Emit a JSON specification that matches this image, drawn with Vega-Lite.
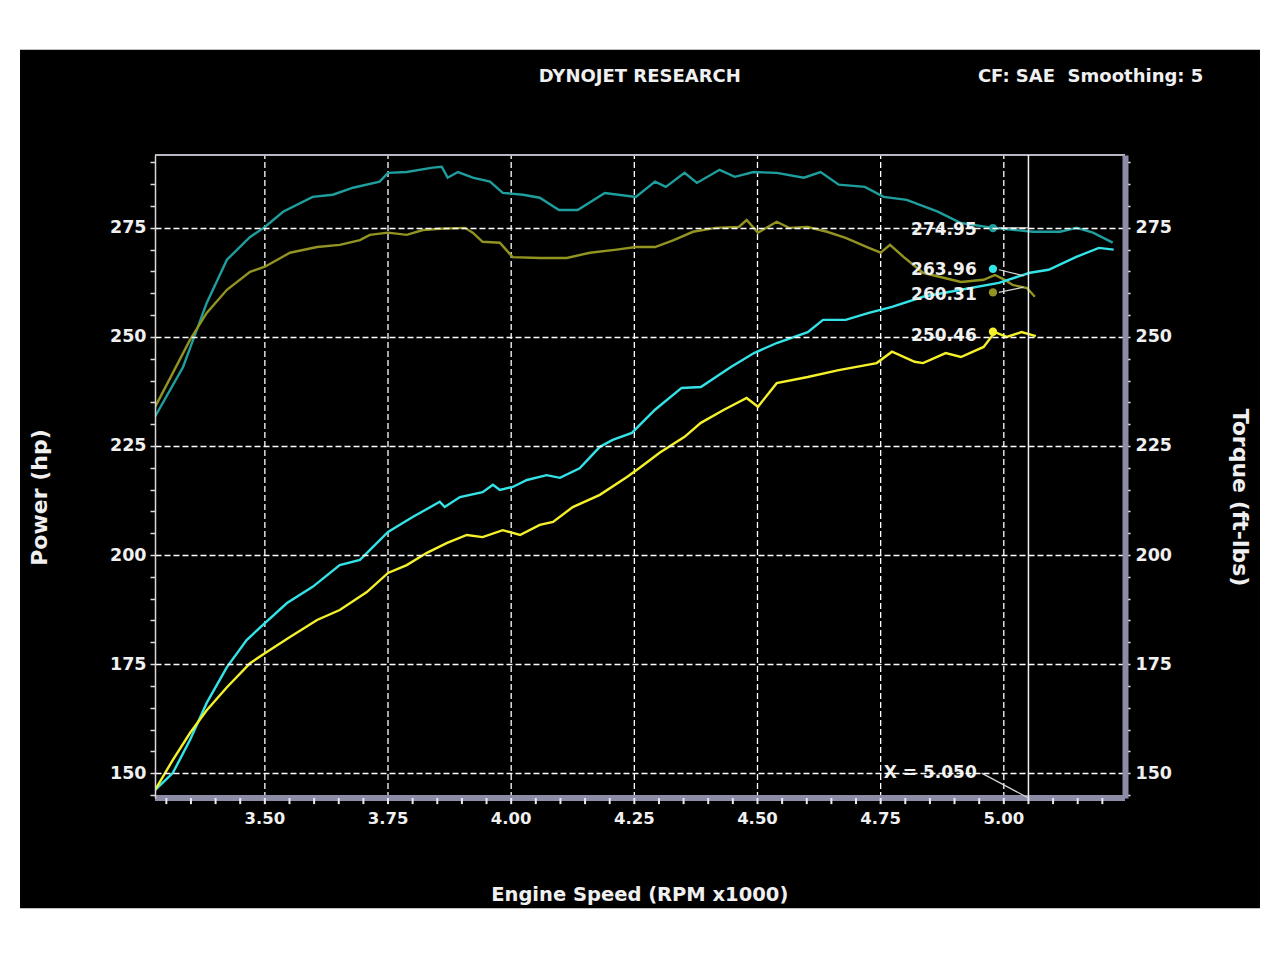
{
  "$schema": "https://vega.github.io/schema/vega-lite/v6.json",
  "width": 970,
  "height": 643,
  "autosize": {"type": "none"},
  "padding": {"left": 155, "top": 155, "right": 155, "bottom": 161},
  "background": "white",
  "config": {
    "view": {"stroke": "#b8b8c4", "strokeWidth": 2, "cornerRadius": 8},
    "font": "DejaVu Sans"
  },
  "datasets": {
    "curves": [
      {"rpm": 3.277, "value": 231.7, "series": "Torque 1"},
      {"rpm": 3.334, "value": 243.1, "series": "Torque 1"},
      {"rpm": 3.382, "value": 257.8, "series": "Torque 1"},
      {"rpm": 3.423, "value": 267.7, "series": "Torque 1"},
      {"rpm": 3.470, "value": 272.9, "series": "Torque 1"},
      {"rpm": 3.500, "value": 275.2, "series": "Torque 1"},
      {"rpm": 3.537, "value": 278.7, "series": "Torque 1"},
      {"rpm": 3.597, "value": 282.1, "series": "Torque 1"},
      {"rpm": 3.638, "value": 282.6, "series": "Torque 1"},
      {"rpm": 3.679, "value": 284.2, "series": "Torque 1"},
      {"rpm": 3.733, "value": 285.6, "series": "Torque 1"},
      {"rpm": 3.750, "value": 287.6, "series": "Torque 1"},
      {"rpm": 3.788, "value": 287.8, "series": "Torque 1"},
      {"rpm": 3.841, "value": 288.8, "series": "Torque 1"},
      {"rpm": 3.859, "value": 289.0, "series": "Torque 1"},
      {"rpm": 3.871, "value": 286.5, "series": "Torque 1"},
      {"rpm": 3.892, "value": 287.8, "series": "Torque 1"},
      {"rpm": 3.922, "value": 286.5, "series": "Torque 1"},
      {"rpm": 3.957, "value": 285.6, "series": "Torque 1"},
      {"rpm": 3.983, "value": 283.0, "series": "Torque 1"},
      {"rpm": 4.024, "value": 282.6, "series": "Torque 1"},
      {"rpm": 4.058, "value": 281.9, "series": "Torque 1"},
      {"rpm": 4.097, "value": 279.1, "series": "Torque 1"},
      {"rpm": 4.135, "value": 279.1, "series": "Torque 1"},
      {"rpm": 4.190, "value": 283.0, "series": "Torque 1"},
      {"rpm": 4.253, "value": 282.1, "series": "Torque 1"},
      {"rpm": 4.292, "value": 285.6, "series": "Torque 1"},
      {"rpm": 4.314, "value": 284.4, "series": "Torque 1"},
      {"rpm": 4.352, "value": 287.6, "series": "Torque 1"},
      {"rpm": 4.377, "value": 285.3, "series": "Torque 1"},
      {"rpm": 4.423, "value": 288.3, "series": "Torque 1"},
      {"rpm": 4.454, "value": 286.7, "series": "Torque 1"},
      {"rpm": 4.492, "value": 287.8, "series": "Torque 1"},
      {"rpm": 4.539, "value": 287.6, "series": "Torque 1"},
      {"rpm": 4.594, "value": 286.5, "series": "Torque 1"},
      {"rpm": 4.628, "value": 287.8, "series": "Torque 1"},
      {"rpm": 4.665, "value": 284.9, "series": "Torque 1"},
      {"rpm": 4.718, "value": 284.4, "series": "Torque 1"},
      {"rpm": 4.756, "value": 282.1, "series": "Torque 1"},
      {"rpm": 4.803, "value": 281.4, "series": "Torque 1"},
      {"rpm": 4.866, "value": 278.7, "series": "Torque 1"},
      {"rpm": 4.913, "value": 276.1, "series": "Torque 1"},
      {"rpm": 4.978, "value": 275.0, "series": "Torque 1"},
      {"rpm": 5.059, "value": 274.1, "series": "Torque 1"},
      {"rpm": 5.114, "value": 274.1, "series": "Torque 1"},
      {"rpm": 5.148, "value": 275.0, "series": "Torque 1"},
      {"rpm": 5.181, "value": 273.9, "series": "Torque 1"},
      {"rpm": 5.221, "value": 271.6, "series": "Torque 1"},

      {"rpm": 3.277, "value": 233.9, "series": "Torque 2"},
      {"rpm": 3.313, "value": 241.7, "series": "Torque 2"},
      {"rpm": 3.348, "value": 249.3, "series": "Torque 2"},
      {"rpm": 3.382, "value": 255.5, "series": "Torque 2"},
      {"rpm": 3.423, "value": 260.8, "series": "Torque 2"},
      {"rpm": 3.470, "value": 264.9, "series": "Torque 2"},
      {"rpm": 3.500, "value": 266.1, "series": "Torque 2"},
      {"rpm": 3.551, "value": 269.3, "series": "Torque 2"},
      {"rpm": 3.606, "value": 270.6, "series": "Torque 2"},
      {"rpm": 3.652, "value": 271.1, "series": "Torque 2"},
      {"rpm": 3.693, "value": 272.2, "series": "Torque 2"},
      {"rpm": 3.713, "value": 273.4, "series": "Torque 2"},
      {"rpm": 3.750, "value": 273.9, "series": "Torque 2"},
      {"rpm": 3.788, "value": 273.4, "series": "Torque 2"},
      {"rpm": 3.821, "value": 274.5, "series": "Torque 2"},
      {"rpm": 3.855, "value": 274.8, "series": "Torque 2"},
      {"rpm": 3.906, "value": 275.0, "series": "Torque 2"},
      {"rpm": 3.922, "value": 273.9, "series": "Torque 2"},
      {"rpm": 3.942, "value": 271.8, "series": "Torque 2"},
      {"rpm": 3.977, "value": 271.6, "series": "Torque 2"},
      {"rpm": 4.003, "value": 268.3, "series": "Torque 2"},
      {"rpm": 4.058, "value": 268.1, "series": "Torque 2"},
      {"rpm": 4.113, "value": 268.1, "series": "Torque 2"},
      {"rpm": 4.160, "value": 269.3, "series": "Torque 2"},
      {"rpm": 4.214, "value": 270.0, "series": "Torque 2"},
      {"rpm": 4.253, "value": 270.6, "series": "Torque 2"},
      {"rpm": 4.292, "value": 270.6, "series": "Torque 2"},
      {"rpm": 4.330, "value": 272.2, "series": "Torque 2"},
      {"rpm": 4.369, "value": 274.1, "series": "Torque 2"},
      {"rpm": 4.415, "value": 275.0, "series": "Torque 2"},
      {"rpm": 4.462, "value": 275.2, "series": "Torque 2"},
      {"rpm": 4.478, "value": 276.8, "series": "Torque 2"},
      {"rpm": 4.501, "value": 273.9, "series": "Torque 2"},
      {"rpm": 4.539, "value": 276.4, "series": "Torque 2"},
      {"rpm": 4.564, "value": 275.0, "series": "Torque 2"},
      {"rpm": 4.602, "value": 275.2, "series": "Torque 2"},
      {"rpm": 4.641, "value": 274.1, "series": "Torque 2"},
      {"rpm": 4.679, "value": 272.7, "series": "Torque 2"},
      {"rpm": 4.726, "value": 270.4, "series": "Torque 2"},
      {"rpm": 4.750, "value": 269.3, "series": "Torque 2"},
      {"rpm": 4.769, "value": 271.1, "series": "Torque 2"},
      {"rpm": 4.797, "value": 268.3, "series": "Torque 2"},
      {"rpm": 4.836, "value": 264.7, "series": "Torque 2"},
      {"rpm": 4.913, "value": 262.6, "series": "Torque 2"},
      {"rpm": 4.959, "value": 263.1, "series": "Torque 2"},
      {"rpm": 4.982, "value": 264.2, "series": "Torque 2"},
      {"rpm": 5.000, "value": 263.2, "series": "Torque 2"},
      {"rpm": 5.018, "value": 261.9, "series": "Torque 2"},
      {"rpm": 5.047, "value": 261.2, "series": "Torque 2"},
      {"rpm": 5.063, "value": 259.2, "series": "Torque 2"},

      {"rpm": 3.277, "value": 146.1, "series": "Power 1"},
      {"rpm": 3.313, "value": 150.0, "series": "Power 1"},
      {"rpm": 3.348, "value": 157.6, "series": "Power 1"},
      {"rpm": 3.382, "value": 166.1, "series": "Power 1"},
      {"rpm": 3.423, "value": 174.3, "series": "Power 1"},
      {"rpm": 3.463, "value": 180.5, "series": "Power 1"},
      {"rpm": 3.500, "value": 184.4, "series": "Power 1"},
      {"rpm": 3.545, "value": 189.0, "series": "Power 1"},
      {"rpm": 3.597, "value": 192.7, "series": "Power 1"},
      {"rpm": 3.652, "value": 197.7, "series": "Power 1"},
      {"rpm": 3.693, "value": 198.9, "series": "Power 1"},
      {"rpm": 3.719, "value": 201.8, "series": "Power 1"},
      {"rpm": 3.750, "value": 205.3, "series": "Power 1"},
      {"rpm": 3.800, "value": 208.7, "series": "Power 1"},
      {"rpm": 3.855, "value": 212.2, "series": "Power 1"},
      {"rpm": 3.865, "value": 211.0, "series": "Power 1"},
      {"rpm": 3.896, "value": 213.3, "series": "Power 1"},
      {"rpm": 3.942, "value": 214.4, "series": "Power 1"},
      {"rpm": 3.963, "value": 216.1, "series": "Power 1"},
      {"rpm": 3.977, "value": 214.9, "series": "Power 1"},
      {"rpm": 4.003, "value": 215.6, "series": "Power 1"},
      {"rpm": 4.032, "value": 217.2, "series": "Power 1"},
      {"rpm": 4.072, "value": 218.3, "series": "Power 1"},
      {"rpm": 4.099, "value": 217.7, "series": "Power 1"},
      {"rpm": 4.139, "value": 219.9, "series": "Power 1"},
      {"rpm": 4.180, "value": 224.8, "series": "Power 1"},
      {"rpm": 4.206, "value": 226.4, "series": "Power 1"},
      {"rpm": 4.245, "value": 228.0, "series": "Power 1"},
      {"rpm": 4.292, "value": 233.3, "series": "Power 1"},
      {"rpm": 4.346, "value": 238.3, "series": "Power 1"},
      {"rpm": 4.385, "value": 238.5, "series": "Power 1"},
      {"rpm": 4.446, "value": 243.1, "series": "Power 1"},
      {"rpm": 4.493, "value": 246.3, "series": "Power 1"},
      {"rpm": 4.539, "value": 248.6, "series": "Power 1"},
      {"rpm": 4.602, "value": 251.1, "series": "Power 1"},
      {"rpm": 4.633, "value": 253.9, "series": "Power 1"},
      {"rpm": 4.679, "value": 253.9, "series": "Power 1"},
      {"rpm": 4.726, "value": 255.5, "series": "Power 1"},
      {"rpm": 4.773, "value": 256.9, "series": "Power 1"},
      {"rpm": 4.836, "value": 259.2, "series": "Power 1"},
      {"rpm": 4.913, "value": 260.8, "series": "Power 1"},
      {"rpm": 4.990, "value": 262.4, "series": "Power 1"},
      {"rpm": 5.053, "value": 264.7, "series": "Power 1"},
      {"rpm": 5.091, "value": 265.4, "series": "Power 1"},
      {"rpm": 5.146, "value": 268.3, "series": "Power 1"},
      {"rpm": 5.193, "value": 270.4, "series": "Power 1"},
      {"rpm": 5.223, "value": 270.0, "series": "Power 1"},

      {"rpm": 3.277, "value": 146.1, "series": "Power 2"},
      {"rpm": 3.313, "value": 153.0, "series": "Power 2"},
      {"rpm": 3.348, "value": 159.2, "series": "Power 2"},
      {"rpm": 3.382, "value": 164.4, "series": "Power 2"},
      {"rpm": 3.423, "value": 169.7, "series": "Power 2"},
      {"rpm": 3.470, "value": 175.2, "series": "Power 2"},
      {"rpm": 3.500, "value": 177.5, "series": "Power 2"},
      {"rpm": 3.551, "value": 181.2, "series": "Power 2"},
      {"rpm": 3.606, "value": 185.1, "series": "Power 2"},
      {"rpm": 3.652, "value": 187.4, "series": "Power 2"},
      {"rpm": 3.707, "value": 191.5, "series": "Power 2"},
      {"rpm": 3.750, "value": 195.9, "series": "Power 2"},
      {"rpm": 3.788, "value": 197.7, "series": "Power 2"},
      {"rpm": 3.829, "value": 200.5, "series": "Power 2"},
      {"rpm": 3.870, "value": 202.8, "series": "Power 2"},
      {"rpm": 3.910, "value": 204.6, "series": "Power 2"},
      {"rpm": 3.942, "value": 204.1, "series": "Power 2"},
      {"rpm": 3.983, "value": 205.7, "series": "Power 2"},
      {"rpm": 4.018, "value": 204.6, "series": "Power 2"},
      {"rpm": 4.058, "value": 206.9, "series": "Power 2"},
      {"rpm": 4.085, "value": 207.6, "series": "Power 2"},
      {"rpm": 4.125, "value": 211.0, "series": "Power 2"},
      {"rpm": 4.180, "value": 213.8, "series": "Power 2"},
      {"rpm": 4.235, "value": 217.9, "series": "Power 2"},
      {"rpm": 4.261, "value": 220.0, "series": "Power 2"},
      {"rpm": 4.302, "value": 223.5, "series": "Power 2"},
      {"rpm": 4.352, "value": 227.1, "series": "Power 2"},
      {"rpm": 4.385, "value": 230.3, "series": "Power 2"},
      {"rpm": 4.432, "value": 233.3, "series": "Power 2"},
      {"rpm": 4.478, "value": 236.0, "series": "Power 2"},
      {"rpm": 4.501, "value": 234.0, "series": "Power 2"},
      {"rpm": 4.539, "value": 239.4, "series": "Power 2"},
      {"rpm": 4.602, "value": 240.8, "series": "Power 2"},
      {"rpm": 4.665, "value": 242.4, "series": "Power 2"},
      {"rpm": 4.742, "value": 244.0, "series": "Power 2"},
      {"rpm": 4.773, "value": 246.6, "series": "Power 2"},
      {"rpm": 4.819, "value": 244.3, "series": "Power 2"},
      {"rpm": 4.836, "value": 244.0, "series": "Power 2"},
      {"rpm": 4.882, "value": 246.3, "series": "Power 2"},
      {"rpm": 4.913, "value": 245.4, "series": "Power 2"},
      {"rpm": 4.959, "value": 247.7, "series": "Power 2"},
      {"rpm": 4.982, "value": 251.1, "series": "Power 2"},
      {"rpm": 5.006, "value": 250.0, "series": "Power 2"},
      {"rpm": 5.036, "value": 251.1, "series": "Power 2"},
      {"rpm": 5.065, "value": 250.2, "series": "Power 2"}
    ],
    "markers": [
      {"rpm": 4.978, "value": 274.95, "series": "Torque 1"},
      {"rpm": 4.978, "value": 265.6, "series": "Power 1"},
      {"rpm": 4.978, "value": 260.2, "series": "Torque 2"},
      {"rpm": 4.978, "value": 251.2, "series": "Power 2"}
    ],
    "labels": [
      {"rpm": 4.945, "value": 274.4, "text": "274.95"},
      {"rpm": 4.945, "value": 265.3, "text": "263.96"},
      {"rpm": 4.945, "value": 259.6, "text": "260.31"},
      {"rpm": 4.945, "value": 250.1, "text": "250.46"},
      {"rpm": 4.945, "value": 150.0, "text": "X = 5.050"}
    ],
    "connectors": [
      {"rpm": 4.99, "rpm2": 5.05, "value": 275.0, "value2": 275.0},
      {"rpm": 4.99, "rpm2": 5.04, "value": 265.4, "value2": 264.0},
      {"rpm": 4.99, "rpm2": 5.04, "value": 260.2, "value2": 261.4},
      {"rpm": 4.955, "rpm2": 5.05, "value": 150.0, "value2": 144.3}
    ],
    "xmajor": [
      {"rpm": 3.5, "label": "3.50"},
      {"rpm": 3.75, "label": "3.75"},
      {"rpm": 4.0, "label": "4.00"},
      {"rpm": 4.25, "label": "4.25"},
      {"rpm": 4.5, "label": "4.50"},
      {"rpm": 4.75, "label": "4.75"},
      {"rpm": 5.0, "label": "5.00"}
    ],
    "xminor": [
      {"rpm": 3.3}, {"rpm": 3.35}, {"rpm": 3.4}, {"rpm": 3.45}, {"rpm": 3.5}, {"rpm": 3.55}, {"rpm": 3.6}, {"rpm": 3.65}, {"rpm": 3.7}, {"rpm": 3.75},
      {"rpm": 3.8}, {"rpm": 3.85}, {"rpm": 3.9}, {"rpm": 3.95}, {"rpm": 4.0}, {"rpm": 4.05}, {"rpm": 4.1}, {"rpm": 4.15}, {"rpm": 4.2}, {"rpm": 4.25},
      {"rpm": 4.3}, {"rpm": 4.35}, {"rpm": 4.4}, {"rpm": 4.45}, {"rpm": 4.5}, {"rpm": 4.55}, {"rpm": 4.6}, {"rpm": 4.65}, {"rpm": 4.7}, {"rpm": 4.75},
      {"rpm": 4.8}, {"rpm": 4.85}, {"rpm": 4.9}, {"rpm": 4.95}, {"rpm": 5.0}, {"rpm": 5.05}, {"rpm": 5.1}, {"rpm": 5.15}, {"rpm": 5.2}
    ]
  },
  "layer": [
    {
      "data": {"values": [{}]},
      "mark": {"type": "rect", "color": "#000000"},
      "encoding": {
        "x": {"datum": 3.003, "type": "quantitative", "scale": {"domain": [3.277, 5.246], "nice": false, "zero": false}, "axis": null},
        "x2": {"datum": 5.52},
        "y": {"datum": 315.8, "type": "quantitative", "axis": null},
        "y2": {"datum": 119.0}
      }
    },
    {
      "data": {"name": "xmajor"},
      "mark": {"type": "rule", "color": "#ffffff", "strokeWidth": 1.3, "strokeDash": [6, 3]},
      "encoding": {
        "x": {"field": "rpm", "type": "quantitative", "axis": null},
        "y": {"datum": 144.3, "type": "quantitative", "axis": null},
        "y2": {"datum": 291.7}
      }
    },
    {
      "data": {"name": "curves"},
      "mark": {"type": "line", "strokeWidth": 2.4, "clip": true},
      "encoding": {
        "x": {"field": "rpm", "type": "quantitative", "axis": null},
        "y": {
          "field": "value", "type": "quantitative",
          "scale": {"domain": [144.3, 291.7], "nice": false, "zero": false},
          "axis": {
            "orient": "left",
            "values": [145, 150, 155, 160, 165, 170, 175, 180, 185, 190, 195, 200, 205, 210, 215, 220, 225, 230, 235, 240, 245, 250, 255, 260, 265, 270, 275, 280, 285, 290],
            "labelExpr": "datum.value % 25 == 0 ? datum.label : ''",
            "grid": true,
            "gridOpacity": {"condition": {"test": "datum.value % 25 == 0", "value": 1}, "value": 0},
            "gridColor": "#ffffff", "gridDash": [6, 3], "gridWidth": 1.3,
            "domainColor": "#d8d8d8", "domainWidth": 1.5,
            "tickColor": "#d8d8d8", "tickSize": 5, "tickWidth": 1.5,
            "labelColor": "#f0f0f0", "labelFont": "DejaVu Sans", "labelFontSize": 17.5, "labelFontWeight": "bold", "labelPadding": 4,
            "labelOverlap": false, "labelFlush": false,
            "title": "Power (hp)", "titleColor": "#f0f0f0", "titleFont": "DejaVu Sans", "titleFontSize": 22, "titleFontWeight": "bold", "titlePadding": 58, "titleY": 342,
            "zindex": 1
          }
        },
        "color": {
          "field": "series", "type": "nominal",
          "scale": {"domain": ["Torque 1", "Torque 2", "Power 1", "Power 2"], "range": ["#1f9e9e", "#939322", "#33e3e8", "#f4f02a"]},
          "legend": null
        },
        "detail": {"field": "series"}
      }
    },
    {
      "data": {"values": [{}]},
      "mark": {"type": "rule", "color": "#b8b8c4", "strokeWidth": 2},
      "encoding": {
        "x": {"datum": 3.277, "type": "quantitative", "axis": null},
        "x2": {"datum": 5.246},
        "y": {"datum": 291.7, "type": "quantitative", "axis": null}
      }
    },
    {
      "data": {"values": [{}]},
      "mark": {"type": "rule", "color": "#8c8ca6", "strokeWidth": 6},
      "encoding": {
        "x": {"datum": 3.277, "type": "quantitative", "axis": null},
        "x2": {"datum": 5.246},
        "y": {"datum": 144.3, "type": "quantitative", "axis": null}
      }
    },
    {
      "data": {"name": "xminor"},
      "mark": {"type": "rule", "color": "#e8e8f0", "strokeWidth": 2},
      "encoding": {
        "x": {"field": "rpm", "type": "quantitative", "axis": null},
        "y": {"datum": 144.3, "type": "quantitative", "axis": null},
        "y2": {"datum": 142.9}
      }
    },
    {
      "data": {"name": "xmajor"},
      "mark": {"type": "text", "align": "center", "baseline": "middle", "color": "#f0f0f0", "font": "DejaVu Sans", "fontSize": 16.5, "fontWeight": "bold"},
      "encoding": {
        "x": {"field": "rpm", "type": "quantitative", "axis": null},
        "y": {"datum": 139.6, "type": "quantitative", "axis": null},
        "text": {"field": "label"}
      }
    },
    {
      "data": {"values": [{"rpm": 4.261, "text": "Engine Speed (RPM x1000)"}]},
      "mark": {"type": "text", "align": "center", "baseline": "middle", "color": "#f0f0f0", "font": "DejaVu Sans", "fontSize": 19.5, "fontWeight": "bold"},
      "encoding": {
        "x": {"field": "rpm", "type": "quantitative", "axis": null},
        "y": {"datum": 122.0, "type": "quantitative", "axis": null},
        "text": {"field": "text"}
      }
    },
    {
      "data": {"values": [{}]},
      "mark": {"type": "rule", "color": "#f0f0f0", "strokeWidth": 1.5},
      "encoding": {
        "x": {"datum": 5.05, "type": "quantitative", "axis": null},
        "y": {"datum": 144.3, "type": "quantitative", "axis": null},
        "y2": {"datum": 291.7}
      }
    },
    {
      "data": {"name": "connectors"},
      "mark": {"type": "rule", "color": "#d8d8d8", "strokeWidth": 1.2},
      "encoding": {
        "x": {"field": "rpm", "type": "quantitative", "axis": null},
        "x2": {"field": "rpm2"},
        "y": {"field": "value", "type": "quantitative", "axis": null},
        "y2": {"field": "value2"}
      }
    },
    {
      "data": {"name": "markers"},
      "mark": {"type": "point", "filled": true, "size": 70, "opacity": 1},
      "encoding": {
        "x": {"field": "rpm", "type": "quantitative", "axis": null},
        "y": {
          "field": "value", "type": "quantitative",
          "axis": {
            "orient": "right",
            "values": [145, 150, 155, 160, 165, 170, 175, 180, 185, 190, 195, 200, 205, 210, 215, 220, 225, 230, 235, 240, 245, 250, 255, 260, 265, 270, 275, 280, 285, 290],
            "labelExpr": "datum.value % 25 == 0 ? datum.label : ''",
            "grid": false,
            "domainColor": "#8c8ca6", "domainWidth": 6,
            "tickColor": "#e8e8f0", "tickSize": 5, "tickWidth": 1.5,
            "labelColor": "#f0f0f0", "labelFont": "DejaVu Sans", "labelFontSize": 17.5, "labelFontWeight": "bold", "labelPadding": 5,
            "labelOverlap": false, "labelFlush": false,
            "title": "Torque (ft-lbs)", "titleColor": "#f0f0f0", "titleFont": "DejaVu Sans", "titleFontSize": 22, "titleFontWeight": "bold", "titlePadding": 56, "titleAngle": 90, "titleY": 342,
            "zindex": 1
          }
        },
        "color": {"field": "series", "type": "nominal", "legend": null}
      }
    },
    {
      "data": {"name": "labels"},
      "mark": {"type": "text", "align": "right", "baseline": "middle", "color": "#f0f0f0", "font": "DejaVu Sans", "fontSize": 17, "fontWeight": "bold"},
      "encoding": {
        "x": {"field": "rpm", "type": "quantitative", "axis": null},
        "y": {"field": "value", "type": "quantitative", "axis": null},
        "text": {"field": "text"}
      }
    },
    {
      "data": {"values": [{"rpm": 4.261, "value": 309.6, "text": "DYNOJET RESEARCH"}]},
      "mark": {"type": "text", "align": "center", "baseline": "middle", "color": "#f0f0f0", "font": "DejaVu Sans", "fontSize": 18, "fontWeight": "bold"},
      "encoding": {
        "x": {"field": "rpm", "type": "quantitative", "axis": null},
        "y": {"field": "value", "type": "quantitative", "axis": null},
        "text": {"field": "text"}
      }
    },
    {
      "data": {"values": [{"rpm": 5.405, "value": 309.6, "text": "CF: SAE\u00a0\u00a0Smoothing: 5"}]},
      "mark": {"type": "text", "align": "right", "baseline": "middle", "color": "#f0f0f0", "font": "DejaVu Sans", "fontSize": 18, "fontWeight": "bold"},
      "encoding": {
        "x": {"field": "rpm", "type": "quantitative", "axis": null},
        "y": {"field": "value", "type": "quantitative", "axis": null},
        "text": {"field": "text"}
      }
    }
  ],
  "resolve": {"axis": {"y": "independent"}}
}
